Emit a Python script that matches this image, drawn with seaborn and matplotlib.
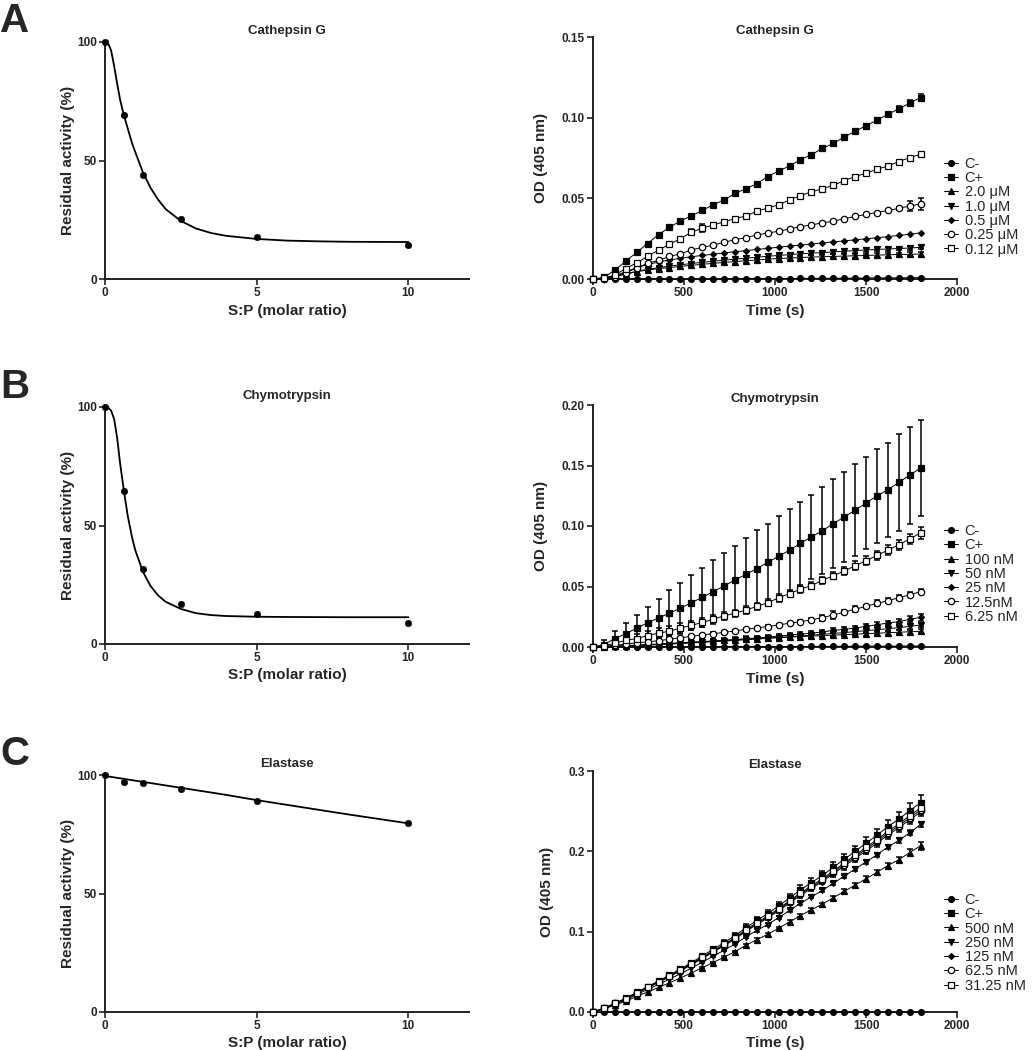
import matplotlib
matplotlib.use("Agg")
import matplotlib.pyplot as plt
import seaborn as sns

# ---------------- left column: residual activity vs S:P ratio ----------------
ratio = [0, 0.625, 1.25, 2.5, 5, 10]
catg_resid = [100, 69.4, 44.0, 25.4, 17.8, 14.2]
chym_resid = [100, 64.5, 31.5, 16.7, 12.5, 8.8]
elas_resid = [100, 96.9, 96.5, 94.2, 88.9, 79.7]

# fitted curves
fit_x = [0, 0.1, 0.2, 0.3, 0.4, 0.5, 0.625, 0.75, 0.9, 1.0, 1.25, 1.5, 1.75,
         2.0, 2.5, 3.0, 3.5, 4.0, 5.0, 6.0, 7.0, 8.0, 10.0]
catg_fit = [100, 99.5, 96.5, 90.0, 82.5, 75.5, 69.0, 63.5, 57.0, 53.5, 45.0, 38.5, 33.5,
            29.5, 24.5, 21.3, 19.4, 18.2, 16.9, 16.2, 15.9, 15.7, 15.6]
chym_fit = [100, 99.8, 98.5, 95.0, 87.0, 76.0, 64.5, 54.0, 44.5, 39.5, 30.5, 24.5, 20.5,
            17.8, 14.8, 13.0, 12.2, 11.8, 11.5, 11.4, 11.35, 11.3, 11.3]
elas_fit = [99.6, 99.4, 99.2, 99.0, 98.8, 98.6, 98.4, 98.1, 97.8, 97.6, 97.1, 96.6, 96.1,
            95.6, 94.6, 93.6, 92.6, 91.6, 89.4, 87.4, 85.4, 83.4, 79.6]

ratio_ticks = [0, 5, 10]
ratio_tick_labels = ["0", "5", "10"]
resid_ticks = [0, 50, 100]
resid_tick_labels = ["0", "50", "100"]

# ---------------- right column: OD(405 nm) kinetics ----------------
time_s = [0, 60, 120, 180, 240, 300, 360, 420, 480, 540, 600, 660, 720, 780, 840, 900,
          960, 1020, 1080, 1140, 1200, 1260, 1320, 1380, 1440, 1500, 1560, 1620, 1680, 1740, 1800]
time_ticks = [0, 500, 1000, 1500, 2000]
time_tick_labels = ["0", "500", "1000", "1500", "2000"]

# Cathepsin G
cg_labels = ["C-", "C+", "2.0 \u03bcM", "1.0 \u03bcM", "0.5 \u03bcM", "0.25 \u03bcM", "0.12 \u03bcM"]
cg_cneg = [0, 0, 0, 0, 0, 0, 0, 0, 0, 0, 0.0001, 0.0001, 0.0001, 0.0002, 0.0002, 0.0002,
           0.0003, 0.0003, 0.0003, 0.0004, 0.0004, 0.0004, 0.0005, 0.0005, 0.0006, 0.0006,
           0.0006, 0.0007, 0.0007, 0.0008, 0.0008]
cg_cpos = [0, 0.001, 0.0056, 0.011, 0.0165, 0.022, 0.0275, 0.032, 0.036, 0.039, 0.0425,
           0.046, 0.049, 0.053, 0.056, 0.059, 0.0635, 0.067, 0.070, 0.074, 0.077, 0.081,
           0.084, 0.088, 0.0915, 0.095, 0.0985, 0.102, 0.1055, 0.109, 0.1125]
cg_cpos_err = [0, 0, 0, 0, 0, 0, 0, 0, 0, 0, 0, 0, 0, 0, 0, 0, 0, 0, 0, 0, 0, 0.0005,
               0.0005, 0.0005, 0.0008, 0.0008, 0.001, 0.0012, 0.0015, 0.0018, 0.002]
cg_2um = [0, 0.0004, 0.0015, 0.003, 0.0045, 0.0056, 0.0064, 0.0071, 0.0078, 0.0085, 0.0091,
          0.0097, 0.0103, 0.0108, 0.0113, 0.0118, 0.0123, 0.0127, 0.013, 0.0133, 0.0136,
          0.0138, 0.014, 0.0142, 0.0144, 0.0146, 0.0148, 0.015, 0.0152, 0.0153, 0.0155]
cg_2um_err = [0, 0, 0, 0.001, 0.0012, 0.0012, 0.0012, 0.0012, 0.0012, 0.0012, 0.0012, 0.0012,
              0.0012, 0.0012, 0.0012, 0.0012, 0.0012, 0.0012, 0.0012, 0.0012, 0.0012, 0.0012,
              0.0012, 0.0012, 0.0012, 0.0012, 0.0012, 0.0012, 0.0012, 0.0012, 0.0012]
cg_1um = [0, 0.0004, 0.0016, 0.0032, 0.0048, 0.006, 0.007, 0.008, 0.0088, 0.0096, 0.0103,
          0.011, 0.0117, 0.0123, 0.0129, 0.0135, 0.0141, 0.0146, 0.0151, 0.0156, 0.016,
          0.0164, 0.0168, 0.0172, 0.0176, 0.018, 0.0183, 0.0186, 0.0189, 0.0192, 0.0196]
cg_1um_err = [0, 0, 0, 0.001, 0.0012, 0.0012, 0.0012, 0.0012, 0.0012, 0.0012, 0.0012, 0.0012,
              0.0012, 0.0012, 0.0012, 0.0012, 0.0012, 0.0012, 0.0012, 0.0012, 0.0012, 0.0012,
              0.0012, 0.0012, 0.0012, 0.0012, 0.0012, 0.0012, 0.0012, 0.0012, 0.0012]
cg_05um = [0, 0.0005, 0.002, 0.0045, 0.007, 0.009, 0.0105, 0.0118, 0.0128, 0.0138, 0.0146,
           0.0154, 0.0162, 0.0169, 0.0176, 0.0183, 0.019, 0.0197, 0.0204, 0.021, 0.0217,
           0.0223, 0.023, 0.0236, 0.0243, 0.0249, 0.0256, 0.0263, 0.027, 0.0277, 0.0286]
cg_025um = [0, 0.0003, 0.0015, 0.004, 0.0067, 0.0098, 0.0115, 0.014, 0.0156, 0.018, 0.0196,
            0.021, 0.0227, 0.0244, 0.0256, 0.0273, 0.0285, 0.0296, 0.031, 0.0325, 0.0335,
            0.0348, 0.0358, 0.0373, 0.0388, 0.040, 0.0412, 0.0425, 0.0438, 0.0452, 0.0465]
cg_025um_err = [0, 0, 0, 0, 0, 0, 0, 0, 0, 0, 0, 0, 0, 0, 0, 0, 0, 0, 0, 0, 0, 0, 0, 0,
                0, 0, 0, 0, 0.001, 0.003, 0.004]
cg_012um = [0, 0.0005, 0.0025, 0.0065, 0.010, 0.014, 0.018, 0.0215, 0.025, 0.029, 0.0315,
            0.0335, 0.0354, 0.0375, 0.039, 0.042, 0.044, 0.046, 0.049, 0.0517, 0.054, 0.056,
            0.058, 0.061, 0.0635, 0.0656, 0.068, 0.070, 0.0728, 0.0752, 0.0773]
cg_012um_err = [0, 0, 0, 0, 0, 0, 0, 0, 0, 0.002, 0.0025, 0.0015, 0, 0, 0, 0, 0, 0, 0, 0,
                0, 0, 0, 0, 0, 0, 0, 0, 0, 0.001, 0.001]

# Chymotrypsin
ch_labels = ["C-", "C+", "100 nM", "50 nM", "25 nM", "12.5nM", "6.25 nM"]
ch_cneg = [0, 0, 0, 0, 0, 0, 0, 0.0001, 0.0001, 0.0001, 0.0001, 0.0002, 0.0002, 0.0002,
           0.0003, 0.0003, 0.0003, 0.0004, 0.0004, 0.0004, 0.0005, 0.0005, 0.0005, 0.0006,
           0.0006, 0.0007, 0.0007, 0.0007, 0.0008, 0.0008, 0.0009]
ch_cpos = [0, 0.002, 0.007, 0.011, 0.0155, 0.020, 0.024, 0.028, 0.032, 0.0366, 0.041, 0.0457,
           0.0504, 0.0554, 0.060, 0.0647, 0.070, 0.075, 0.080, 0.0857, 0.091, 0.096, 0.102,
           0.1074, 0.113, 0.119, 0.1248, 0.130, 0.136, 0.142, 0.148]
ch_cpos_err = [0, 0.004, 0.006, 0.0086, 0.011, 0.0133, 0.016, 0.019, 0.021, 0.0226, 0.0246,
               0.026, 0.027, 0.028, 0.030, 0.0317, 0.032, 0.0335, 0.034, 0.0345, 0.035, 0.036,
               0.0365, 0.037, 0.038, 0.038, 0.0385, 0.039, 0.040, 0.040, 0.040]
ch_100nm = [0, 0.0002, 0.0006, 0.001, 0.0015, 0.002, 0.0025, 0.003, 0.0035, 0.004, 0.0045,
            0.005, 0.0055, 0.006, 0.0065, 0.007, 0.0074, 0.0078, 0.0082, 0.0086, 0.009, 0.0094,
            0.0098, 0.0102, 0.0106, 0.011, 0.0114, 0.0118, 0.0122, 0.0126, 0.013]
ch_100nm_err = [0, 0, 0, 0, 0, 0.001, 0.001, 0.001, 0.0015, 0.0015, 0.0015, 0.0015, 0.0015,
                0.0015, 0.0015, 0.0015, 0.0015, 0.0015, 0.0015, 0.0015, 0.0015, 0.0015, 0.0015,
                0.0015, 0.0015, 0.0015, 0.0015, 0.0015, 0.0015, 0.0015, 0.0015]
ch_50nm = [0, 0.0002, 0.0005, 0.0008, 0.0012, 0.0016, 0.002, 0.0024, 0.0029, 0.0034, 0.0039,
           0.0044, 0.0049, 0.0054, 0.006, 0.0066, 0.0072, 0.0078, 0.0084, 0.0091, 0.0098,
           0.0105, 0.0112, 0.0119, 0.0127, 0.0135, 0.0143, 0.0151, 0.016, 0.017, 0.0182]
ch_50nm_err = [0, 0, 0, 0, 0, 0.001, 0.001, 0.0015, 0.002, 0.002, 0.002, 0.002, 0.002, 0.002,
               0.002, 0.002, 0.002, 0.002, 0.002, 0.002, 0.002, 0.002, 0.002, 0.002, 0.002,
               0.002, 0.002, 0.002, 0.002, 0.002, 0.002]
ch_25nm = [0, 0.0002, 0.0005, 0.0009, 0.0013, 0.0017, 0.0021, 0.0026, 0.0031, 0.0036, 0.0042,
           0.0048, 0.0054, 0.0061, 0.0068, 0.0075, 0.0082, 0.009, 0.0098, 0.0106, 0.0115,
           0.0124, 0.0137, 0.0146, 0.0157, 0.017, 0.0184, 0.0198, 0.021, 0.0228, 0.0245]
ch_25nm_err = [0, 0, 0, 0, 0, 0.001, 0.001, 0.0015, 0.002, 0.002, 0.002, 0.002, 0.002, 0.002,
               0.002, 0.002, 0.002, 0.002, 0.002, 0.002, 0.002, 0.002, 0.002, 0.002, 0.002,
               0.002, 0.002, 0.002, 0.002, 0.0025, 0.003]
ch_125nm = [0, 0.0006, 0.0015, 0.0024, 0.0035, 0.0043, 0.0052, 0.0064, 0.0076, 0.0088, 0.01,
            0.011, 0.0121, 0.0133, 0.0146, 0.0158, 0.0169, 0.0183, 0.0196, 0.021, 0.0224,
            0.0243, 0.0265, 0.0287, 0.0312, 0.0336, 0.036, 0.0382, 0.0407, 0.0432, 0.0458]
ch_125nm_err = [0, 0, 0, 0.001, 0.001, 0.001, 0.001, 0.001, 0.001, 0.001, 0.001, 0.001, 0.001,
                0.001, 0.001, 0.001, 0.001, 0.001, 0.001, 0.001, 0.0015, 0.0025, 0.003, 0.0015,
                0.0025, 0.0015, 0.0025, 0.002, 0.002, 0.002, 0.002]
ch_625nm = [0, 0.0012, 0.003, 0.0055, 0.007, 0.0094, 0.0115, 0.0131, 0.0157, 0.0178, 0.0203,
            0.0228, 0.0258, 0.0278, 0.0305, 0.0335, 0.0365, 0.0407, 0.0442, 0.0478, 0.0508,
            0.055, 0.059, 0.0627, 0.0672, 0.0713, 0.0757, 0.08, 0.0845, 0.0892, 0.0944]
ch_625nm_err = [0, 0.0015, 0.002, 0.003, 0.004, 0.004, 0.004, 0.004, 0.004, 0.004, 0.0035,
                0.0035, 0.0035, 0.003, 0.003, 0.003, 0.003, 0.0035, 0.003, 0.003, 0.003, 0.003,
                0.003, 0.0035, 0.0035, 0.0035, 0.004, 0.004, 0.004, 0.004, 0.005]

# Elastase
el_labels = ["C-", "C+", "500 nM", "250 nM", "125 nM", "62.5 nM", "31.25 nM"]
el_cneg = [0, 0, 0, 0, 0, 0, 0, 0, 0, 0, 0, 0, 0, 0, 0, 0, 0, 0, 0, 0, 0, 0, 0, 0, 0, 0,
           0, 0, 0, 0, 0]
el_cpos = [0, 0.0046, 0.011, 0.017, 0.0245, 0.0315, 0.0386, 0.046, 0.0535, 0.0614, 0.0697,
           0.078, 0.0863, 0.095, 0.105, 0.114, 0.1224, 0.132, 0.142, 0.152, 0.161, 0.170,
           0.180, 0.190, 0.200, 0.210, 0.220, 0.2307, 0.240, 0.2506, 0.2606]
el_cpos_err = [0, 0.0005, 0.001, 0.001, 0.0015, 0.0015, 0.002, 0.002, 0.0025, 0.0025, 0.003,
               0.003, 0.0035, 0.0035, 0.004, 0.004, 0.0045, 0.005, 0.005, 0.0055, 0.006, 0.006,
               0.0065, 0.007, 0.007, 0.0075, 0.008, 0.0085, 0.0085, 0.009, 0.009]
el_500nm = [0, 0.0036, 0.0087, 0.0134, 0.0194, 0.0249, 0.0305, 0.0363, 0.0423, 0.0485, 0.0551,
            0.0616, 0.0682, 0.0751, 0.083, 0.0901, 0.0967, 0.1043, 0.1122, 0.1201, 0.1272,
            0.1343, 0.1422, 0.1501, 0.158, 0.1659, 0.1738, 0.1823, 0.1896, 0.1985, 0.207]
el_500nm_err = [0, 0, 0, 0, 0, 0, 0, 0, 0, 0, 0.001, 0.001, 0.001, 0.001, 0.0015, 0.0015,
                0.0015, 0.0015, 0.002, 0.002, 0.002, 0.002, 0.0025, 0.0025, 0.0025, 0.003,
                0.003, 0.0035, 0.0035, 0.004, 0.005]
el_250nm = [0, 0.0041, 0.0098, 0.0151, 0.0218, 0.028, 0.0344, 0.0409, 0.0476, 0.0546, 0.062,
            0.0694, 0.0768, 0.0846, 0.0935, 0.1015, 0.1089, 0.1175, 0.1264, 0.1353, 0.1433,
            0.1513, 0.1602, 0.1691, 0.178, 0.1869, 0.1958, 0.2053, 0.2136, 0.223, 0.2336]
el_250nm_err = [0, 0, 0, 0, 0, 0, 0, 0, 0, 0, 0.001, 0.001, 0.001, 0.001, 0.001, 0.0015,
                0.0015, 0.0015, 0.0015, 0.0015, 0.002, 0.002, 0.002, 0.002, 0.002, 0.0025,
                0.0025, 0.0025, 0.003, 0.003, 0.003]
el_125nm = [0, 0.0044, 0.0105, 0.0162, 0.0234, 0.0301, 0.0369, 0.0439, 0.0511, 0.0586, 0.0666,
            0.0745, 0.0824, 0.0907, 0.1003, 0.1089, 0.1169, 0.1261, 0.1356, 0.1452, 0.1538,
            0.1624, 0.1719, 0.1815, 0.191, 0.2006, 0.2101, 0.2203, 0.2292, 0.2393, 0.2489]
el_125nm_err = [0, 0.0003, 0.0006, 0.0006, 0.0009, 0.0009, 0.0012, 0.0012, 0.0015, 0.0015,
                0.0018, 0.0018, 0.0021, 0.0021, 0.0024, 0.0024, 0.0027, 0.003, 0.003, 0.0033,
                0.0036, 0.0036, 0.0039, 0.0042, 0.0042, 0.0045, 0.0048, 0.0051, 0.0051, 0.0054,
                0.0054]
el_625nm = [0, 0.0044, 0.0106, 0.0164, 0.0236, 0.0304, 0.0372, 0.0444, 0.0516, 0.0593, 0.0673,
            0.0753, 0.0833, 0.0917, 0.1013, 0.11, 0.1181, 0.1274, 0.137, 0.1467, 0.1554,
            0.1641, 0.1737, 0.1834, 0.193, 0.2027, 0.2123, 0.2226, 0.2316, 0.2418, 0.2515]
el_625nm_err = [0, 0.0003, 0.0006, 0.0006, 0.0009, 0.0009, 0.0012, 0.0012, 0.0015, 0.0015,
                0.0018, 0.0018, 0.0021, 0.0021, 0.0024, 0.0024, 0.0027, 0.003, 0.003, 0.0033,
                0.0036, 0.0036, 0.0039, 0.0042, 0.0042, 0.0045, 0.0048, 0.0051, 0.0051, 0.0054,
                0.0054]
el_3125nm = [0, 0.0045, 0.0107, 0.0166, 0.0239, 0.0307, 0.0376, 0.0449, 0.0522, 0.0599, 0.068,
             0.076, 0.0841, 0.0926, 0.1024, 0.1112, 0.1193, 0.1287, 0.1385, 0.1482, 0.157,
             0.1658, 0.1755, 0.1853, 0.195, 0.2048, 0.2145, 0.2249, 0.234, 0.2443, 0.2541]
el_3125nm_err = [0, 0.0004, 0.0008, 0.0008, 0.0012, 0.0012, 0.0016, 0.0016, 0.002, 0.002,
                 0.0024, 0.0024, 0.0028, 0.0028, 0.0032, 0.0032, 0.0036, 0.004, 0.004, 0.0044,
                 0.0048, 0.0048, 0.0052, 0.0056, 0.0056, 0.006, 0.0064, 0.0068, 0.0068, 0.0072,
                 0.0072]

od_ticks_cg = [0, 0.05, 0.10, 0.15]
od_labels_cg = ["0.00", "0.05", "0.10", "0.15"]
od_ticks_ch = [0, 0.05, 0.10, 0.15, 0.20]
od_labels_ch = ["0.00", "0.05", "0.10", "0.15", "0.20"]
od_ticks_el = [0, 0.1, 0.2, 0.3]
od_labels_el = ["0.0", "0.1", "0.2", "0.3"]

# marker style per legend slot (same order in every kinetics panel)
slot_marker = ["o", "s", "^", "v", "D", "o", "s"]
slot_filled = [True, True, True, True, True, False, False]
slot_size = [4.2, 4.6, 4.8, 4.8, 3.0, 4.6, 4.6]

# ---------------- figure ----------------
sns.set_theme(style="ticks")
plt.rcParams["font.family"] = ["Liberation Sans", "DejaVu Sans"]

fig = plt.figure(figsize=(10.32, 10.5), dpi=100)
W, H = 1032, 1050


def px_axes(x0, y_top, x1, y_bot):
    return fig.add_axes([x0 / W, 1 - y_bot / H, (x1 - x0) / W, (y_bot - y_top) / H])


def style_axes(ax):
    sns.despine(ax=ax)
    for side in ("left", "bottom"):
        ax.spines[side].set_linewidth(1.4)
        ax.spines[side].set_color("#222222")
    ax.tick_params(direction="out", length=4, width=1.2, color="#222222", pad=2)


def residual_panel(ax, title, resid, fit):
    sns.lineplot(x=fit_x, y=fit, ax=ax, color="black", lw=1.3, clip_on=False)
    sns.scatterplot(x=ratio, y=resid, ax=ax, color="black", s=22, edgecolor="black",
                    clip_on=False, zorder=3)
    ax.set_xlim(0, 12)
    ax.set_ylim(0, 100)
    ax.set_xticks(ratio_ticks, labels=ratio_tick_labels, fontsize=8.5, fontweight="bold")
    ax.set_yticks(resid_ticks, labels=resid_tick_labels, fontsize=8.5, fontweight="bold")
    ax.set_xlabel("S:P (molar ratio)", fontsize=11, fontweight="bold", labelpad=3)
    ax.set_ylabel("Residual activity (%)", fontsize=11, fontweight="bold", labelpad=1)
    ax.set_title(title, fontsize=9.5, fontweight="bold", pad=6)
    style_axes(ax)


def kinetics_panel(ax, title, labels, series, errors, ymax, yticks, ylabels, legend_y):
    for i, (lab, vals, err) in enumerate(zip(labels, series, errors)):
        face = "black" if slot_filled[i] else "white"
        sns.lineplot(x=time_s, y=vals, ax=ax, color="black", lw=0.7,
                     marker=slot_marker[i], markersize=slot_size[i],
                     markerfacecolor=face, markeredgecolor="black", markeredgewidth=0.9,
                     label=lab, clip_on=False, zorder=3)
        if err is not None:
            idx = [k for k, e in enumerate(err) if e > 0]
            ax.errorbar([time_s[k] for k in idx], [vals[k] for k in idx],
                        yerr=[err[k] for k in idx], fmt="none", ecolor="black",
                        elinewidth=1.1, capsize=2, capthick=1.1, clip_on=False, zorder=2)
    ax.set_xlim(0, 2000)
    ax.set_ylim(0, ymax)
    ax.set_xticks(time_ticks, labels=time_tick_labels, fontsize=8.5, fontweight="bold")
    ax.set_yticks(yticks, labels=ylabels, fontsize=8.5, fontweight="bold")
    ax.set_xlabel("Time (s)", fontsize=11, fontweight="bold", labelpad=3)
    ax.set_ylabel("OD (405 nm)", fontsize=11, fontweight="bold", labelpad=10)
    ax.set_title(title, fontsize=9.5, fontweight="bold", pad=2)
    ax.legend(loc="upper left", bbox_to_anchor=(0.963, legend_y), frameon=False,
              fontsize=10.5, handlelength=1.0, handletextpad=0.45, labelspacing=0.02,
              borderaxespad=0, borderpad=0, numpoints=1)
    style_axes(ax)


axA1 = px_axes(105, 42, 469, 279)
axB1 = px_axes(105, 407, 469, 644)
axC1 = px_axes(105, 775, 469, 1012)
residual_panel(axA1, "Cathepsin G", catg_resid, catg_fit)
residual_panel(axB1, "Chymotrypsin", chym_resid, chym_fit)
residual_panel(axC1, "Elastase", elas_resid, elas_fit)

axA2 = px_axes(593, 37, 957, 279)
axB2 = px_axes(593, 405, 957, 647)
axC2 = px_axes(593, 771, 957, 1012)
kinetics_panel(axA2, "Cathepsin G", cg_labels,
               [cg_cneg, cg_cpos, cg_2um, cg_1um, cg_05um, cg_025um, cg_012um],
               [None, cg_cpos_err, cg_2um_err, cg_1um_err, None, cg_025um_err, cg_012um_err],
               0.15, od_ticks_cg, od_labels_cg, 0.505)
kinetics_panel(axB2, "Chymotrypsin", ch_labels,
               [ch_cneg, ch_cpos, ch_100nm, ch_50nm, ch_25nm, ch_125nm, ch_625nm],
               [None, ch_cpos_err, ch_100nm_err, ch_50nm_err, ch_25nm_err, ch_125nm_err,
                ch_625nm_err],
               0.20, od_ticks_ch, od_labels_ch, 0.508)
kinetics_panel(axC2, "Elastase", el_labels,
               [el_cneg, el_cpos, el_500nm, el_250nm, el_125nm, el_625nm, el_3125nm],
               [None, el_cpos_err, el_500nm_err, el_250nm_err, el_125nm_err, el_625nm_err,
                el_3125nm_err],
               0.30, od_ticks_el, od_labels_el, 0.494)

# panel letters, placed by baseline
for letter, y_base in (("A", 32), ("B", 398), ("C", 765)):
    fig.text(0.0, 1 - y_base / H, letter, fontsize=29, fontweight="bold",
             ha="left", va="baseline")

fig.savefig("out.png", dpi=100)
